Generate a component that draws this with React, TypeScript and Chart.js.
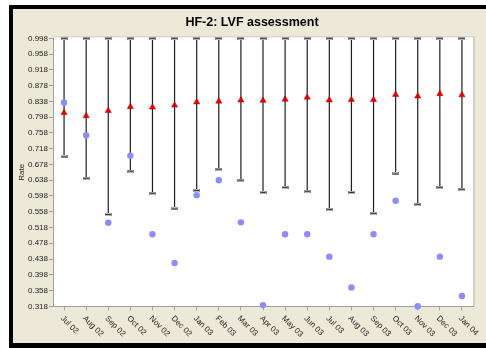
import React, { useEffect, useRef } from 'react';
import { Chart, registerables } from 'chart.js';

Chart.register(...registerables);

const categories = ['Jul 02', 'Aug 02', 'Sep 02', 'Oct 02', 'Nov 02', 'Dec 02', 'Jan 03', 'Feb 03', 'Mar 03', 'Apr 03', 'May 03', 'Jun 03', 'Jul 03', 'Aug 03', 'Sep 03', 'Oct 03', 'Nov 03', 'Dec 03', 'Jan 04'];
const meanRate = [0.809, 0.801, 0.814, 0.824, 0.823, 0.828, 0.836, 0.838, 0.841, 0.840, 0.843, 0.848, 0.841, 0.842, 0.842, 0.855, 0.851, 0.857, 0.854];
const observedRate = [0.835, 0.752, 0.530, 0.700, 0.501, 0.428, 0.600, 0.638, 0.531, 0.321, 0.501, 0.501, 0.444, 0.366, 0.501, 0.586, 0.318, 0.444, 0.344];
const lowerLimit = [0.697, 0.643, 0.551, 0.661, 0.605, 0.565, 0.612, 0.666, 0.638, 0.607, 0.620, 0.610, 0.564, 0.607, 0.554, 0.654, 0.577, 0.620, 0.615];
const upperLimit = [0.998, 0.998, 0.998, 0.998, 0.998, 0.998, 0.998, 0.998, 0.998, 0.998, 0.998, 0.998, 0.998, 0.998, 0.998, 0.998, 0.998, 0.998, 0.998];
const yTicks = [0.318, 0.358, 0.398, 0.438, 0.478, 0.518, 0.558, 0.598, 0.638, 0.678, 0.718, 0.758, 0.798, 0.838, 0.878, 0.918, 0.958, 0.998];
const chartTitle = 'HF-2: LVF assessment';
const yAxisTitle = 'Rate';

const FONT = '"Liberation Sans", Arial, sans-serif';

function makeCap(): HTMLCanvasElement {
  const c = document.createElement('canvas');
  c.width = 7;
  c.height = 3;
  const g = c.getContext('2d')!;
  g.fillStyle = '#8a8a8a';
  g.fillRect(0, 0, 7, 3);
  g.fillStyle = '#b8b8b8';
  g.fillRect(1, 0, 5, 3);
  g.fillStyle = '#303030';
  g.fillRect(1, 1, 5, 1);
  return c;
}

const framePlugin = {
  id: 'frame',
  beforeDraw(chart: any) {
    const { ctx, chartArea } = chart;
    const { left, right, top, bottom } = chartArea;
    ctx.save();
    ctx.fillStyle = '#ffffff';
    ctx.fillRect(0, 0, chart.width, chart.height);
    ctx.fillStyle = '#000000';
    ctx.fillRect(9, 5, chart.width - 9, chart.height - 5);
    ctx.fillStyle = '#ECE9D8';
    ctx.fillRect(13, 9, chart.width - 13, 334);
    ctx.fillStyle = '#ffffff';
    ctx.fillRect(left, top - 2, right - left, bottom - top + 2);
    ctx.fillStyle = '#d4d0c4';
    ctx.fillRect(right, top - 2, 2, bottom - top + 2);
    ctx.fillStyle = '#c8c8c8';
    ctx.fillRect(left, top - 2, right - left, 1);
    ctx.restore();
  },
  afterDraw(chart: any) {
    const { ctx, chartArea, scales } = chart;
    const x = scales.x;
    ctx.save();
    ctx.fillStyle = '#000000';
    ctx.font = `bold 12.5px ${FONT}`;
    ctx.textAlign = 'center';
    ctx.textBaseline = 'middle';
    ctx.fillText(chartTitle, 252, 23);
    ctx.font = `8px ${FONT}`;
    ctx.fillStyle = '#222222';
    ctx.textAlign = 'left';
    categories.forEach((c, i) => {
      const px = x.getPixelForValue(i);
      ctx.save();
      ctx.translate(px - 2, chartArea.bottom + 11);
      ctx.rotate(Math.PI / 4);
      ctx.fillText(c, 0, 0);
      ctx.restore();
    });
    ctx.restore();
  },
};

export default function App() {
  const ref = useRef<HTMLCanvasElement | null>(null);
  useEffect(() => {
    document.body.style.margin = '0';
    if (!ref.current) return;
    const cap = makeCap();
    const chart = new Chart(ref.current, {
      type: 'bar',
      data: {
        labels: categories,
        datasets: [
          {
            type: 'bar',
            data: categories.map((_, i) => [lowerLimit[i], upperLimit[i]]) as any,
            backgroundColor: '#1e1e1e',
            borderWidth: 0,
            barThickness: 1.2,
            inflateAmount: 0,
            order: 4,
          } as any,
          {
            type: 'line',
            data: lowerLimit,
            showLine: false,
            pointStyle: cap,
            pointRadius: 3,
            clip: false,
            order: 3,
          } as any,
          {
            type: 'line',
            data: upperLimit,
            showLine: false,
            pointStyle: cap,
            pointRadius: 3,
            clip: false,
            order: 3,
          } as any,
          {
            type: 'line',
            data: meanRate,
            showLine: false,
            pointStyle: 'triangle',
            pointRadius: 3.6,
            backgroundColor: '#e80000',
            borderColor: '#c00000',
            pointBorderWidth: 0.5,
            clip: false,
            order: 2,
          } as any,
          {
            type: 'line',
            data: observedRate,
            showLine: false,
            pointStyle: 'circle',
            pointRadius: 3.2,
            backgroundColor: '#8c8cfa',
            borderColor: '#8c8cfa',
            pointBorderWidth: 0,
            clip: false,
            order: 1,
          } as any,
        ],
      },
      options: {
        responsive: false,
        animation: false,
        layout: { padding: { left: 13, right: 13, top: 38.3, bottom: 0 } },
        plugins: {
          legend: { display: false },
          tooltip: { enabled: false },
          title: { display: false },
        },
        scales: {
          x: {
            offset: true,
            grid: { offset: false, drawOnChartArea: false, drawTicks: true, tickLength: 4, color: '#a0a0a0' },
            border: { color: '#a0a0a0' },
            ticks: { display: false },
            afterFit(scale: any) {
              scale.height = 41.7;
            },
          },
          y: {
            min: 0.318,
            max: 0.998,
            grid: { drawOnChartArea: false, drawTicks: true, tickLength: 4, color: '#a0a0a0' },
            border: { color: '#a0a0a0' },
            ticks: {
              font: { family: FONT, size: 8 },
              color: '#222222',
              padding: 1,
              callback: (v: any) => Number(v).toFixed(3),
            },
            afterBuildTicks(scale: any) {
              scale.ticks = yTicks.map((v) => ({ value: v }));
            },
            afterFit(scale: any) {
              scale.width = 40;
            },
            title: {
              display: true,
              text: yAxisTitle,
              font: { family: FONT, size: 8 },
              color: '#222222',
              padding: { top: 4, bottom: 0 },
            },
          },
        },
      },
      plugins: [framePlugin],
    });
    return () => chart.destroy();
  }, []);
  return <canvas ref={ref} width={486} height={348} style={{ display: 'block', width: 486, height: 348 }} />;
}
